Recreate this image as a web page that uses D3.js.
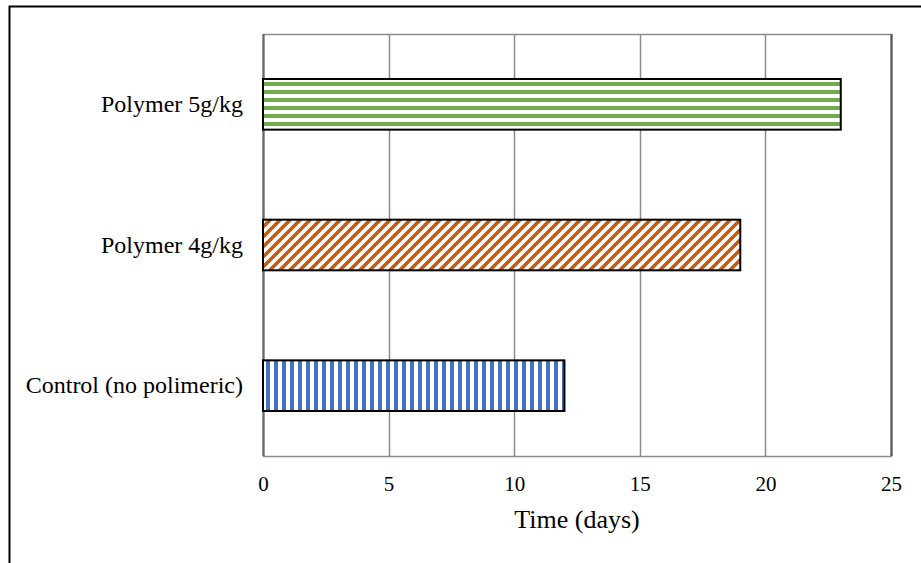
<!DOCTYPE html>
<html lang="en">
<head>
<meta charset="utf-8">
<title>Time (days) bar chart</title>
<script src="https://cdn.jsdelivr.net/npm/d3@7"></script>
<style>
  body { margin: 0; background: #fff; }
  svg { display: block; font-family: 'Liberation Serif', 'Times New Roman', serif; }
</style>
</head>
<body>
<div id="chart"></div>
<script>

/* Data */
var categories = ['Polymer 5g/kg', 'Polymer 4g/kg', 'Control (no polimeric)'];
var values = [23, 19, 12];
var xTicks = [0, 5, 10, 15, 20, 25];

var width = 921,
    height = 563,
    margin = { top: 34, right: 30, bottom: 107, left: 263 };

var svg = d3.select('#chart').append('svg')
    .attr('width', width)
    .attr('height', height);

// patterns
var defs = svg.append('defs');

var pGreen = defs.append('pattern')
    .attr('id', 'p-green')
    .attr('patternUnits', 'userSpaceOnUse')
    .attr('width', 8).attr('height', 8);
pGreen.append('rect').attr('width', 8).attr('height', 8).attr('fill', '#fff');
pGreen.append('rect').attr('y', 2).attr('width', 8).attr('height', 4).attr('fill', '#70AD47');

var pOrange = defs.append('pattern')
    .attr('id', 'p-orange')
    .attr('patternUnits', 'userSpaceOnUse')
    .attr('width', 10).attr('height', 10);
pOrange.append('rect').attr('width', 10).attr('height', 10).attr('fill', '#fff');
pOrange.append('path')
    .attr('d', 'M-2,12 L12,-2 M-2,2 L2,-2 M8,12 L12,8')
    .attr('stroke', '#C55A11')
    .attr('stroke-width', 3.5);

var pBlue = defs.append('pattern')
    .attr('id', 'p-blue')
    .attr('patternUnits', 'userSpaceOnUse')
    .attr('width', 8).attr('height', 8);
pBlue.append('rect').attr('width', 8).attr('height', 8).attr('fill', '#fff');
pBlue.append('rect').attr('x', 2).attr('width', 4).attr('height', 8).attr('fill', '#4472C4');

var fills = ['url(#p-green)', 'url(#p-orange)', 'url(#p-blue)'];

// outer frame (top + left only are visible)
svg.append('path')
    .attr('d', 'M9.5,' + (height + 1) + ' V6.5 H' + (width + 1))
    .attr('fill', 'none')
    .attr('stroke', '#000')
    .attr('stroke-width', 2);

var x = d3.scaleLinear()
    .domain([0, 25])
    .range([margin.left, width - margin.right]);

var y = d3.scaleBand()
    .domain(categories)
    .range([margin.top, height - margin.bottom])
    .paddingInner(0.64)
    .paddingOuter(0.32);

// gridlines
svg.append('g')
    .selectAll('line')
    .data(xTicks)
    .join('line')
    .attr('x1', function(d) { return Math.round(x(d)) + 0.5; })
    .attr('x2', function(d) { return Math.round(x(d)) + 0.5; })
    .attr('y1', margin.top)
    .attr('y2', height - margin.bottom)
    .attr('stroke', '#8c8c8c')
    .attr('stroke-width', 1.5);

// plot border
svg.append('rect')
    .attr('x', x(0) + 0.5)
    .attr('y', margin.top + 0.5)
    .attr('width', x(25) - x(0))
    .attr('height', height - margin.bottom - margin.top)
    .attr('fill', 'none')
    .attr('stroke', '#8c8c8c')
    .attr('stroke-width', 1.5);

svg.append('line')
    .attr('x1', x(25) + 0.5).attr('x2', x(25) + 0.5)
    .attr('y1', margin.top).attr('y2', height - margin.bottom)
    .attr('stroke', '#555').attr('stroke-width', 2);

svg.append('line')
    .attr('x1', x(0) + 0.5).attr('x2', x(0) + 0.5)
    .attr('y1', margin.top).attr('y2', height - margin.bottom)
    .attr('stroke', '#666').attr('stroke-width', 2);

// bars
svg.append('g')
    .selectAll('rect')
    .data(values)
    .join('rect')
    .attr('x', x(0))
    .attr('y', function(d, i) { return y(categories[i]); })
    .attr('width', function(d) { return x(d) - x(0); })
    .attr('height', y.bandwidth())
    .attr('fill', function(d, i) { return fills[i]; })
    .attr('stroke', '#000')
    .attr('stroke-width', 2);

// x axis labels
var xAxis = d3.axisBottom(x)
    .tickValues(xTicks)
    .tickSize(0)
    .tickPadding(20);

var gx = svg.append('g')
    .attr('transform', 'translate(0,' + (height - margin.bottom) + ')')
    .call(xAxis);
gx.select('.domain').remove();
gx.selectAll('text')
    .attr('font-family', "'Liberation Serif', serif")
    .attr('font-size', 21)
    .attr('fill', '#000');

// y axis labels
var yAxis = d3.axisLeft(y)
    .tickSize(0)
    .tickPadding(20);

var gy = svg.append('g')
    .attr('transform', 'translate(' + margin.left + ',0)')
    .call(yAxis);
gy.select('.domain').remove();
gy.selectAll('text')
    .attr('font-family', "'Liberation Serif', serif")
    .attr('font-size', 24)
    .attr('fill', '#000');

// axis title
svg.append('text')
    .attr('x', (x(0) + x(25)) / 2)
    .attr('y', 528)
    .attr('text-anchor', 'middle')
    .attr('font-size', 26)
    .attr('fill', '#000')
    .text('Time (days)');

</script>
</body>
</html>
